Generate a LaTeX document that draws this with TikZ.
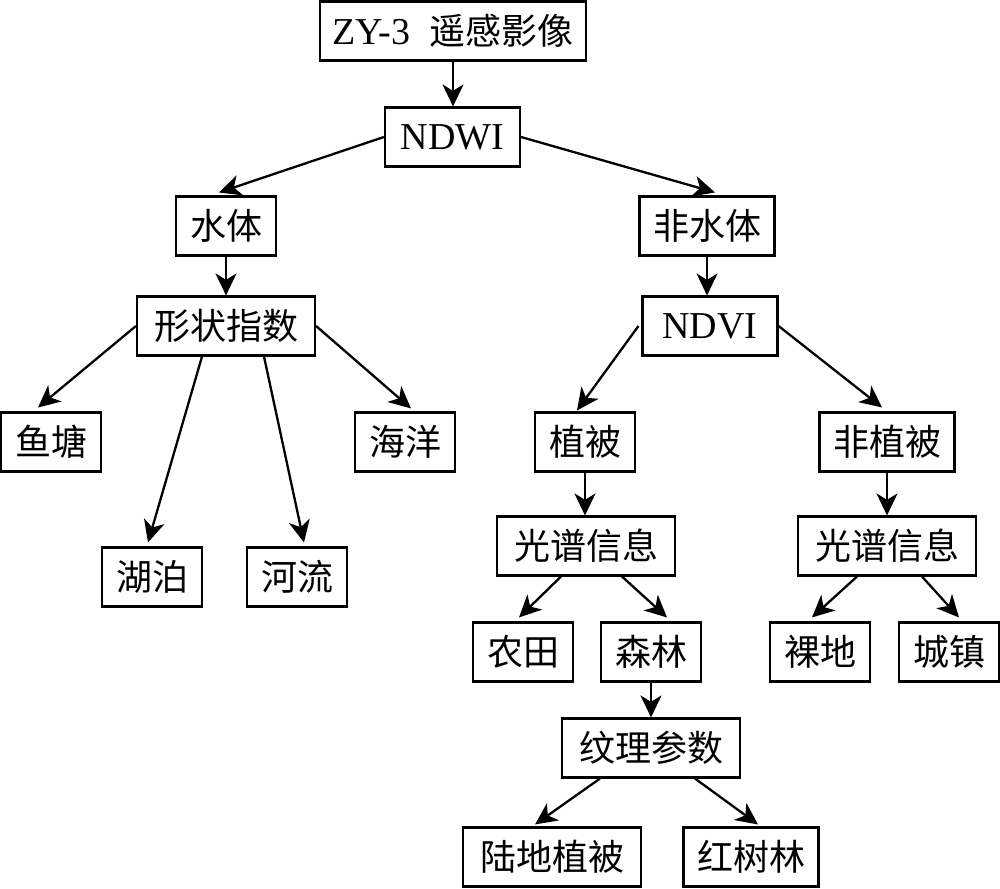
\documentclass[tikz,border=0pt]{standalone}
\usepackage{fontspec}
\setmainfont{Liberation Serif}
\newfontfamily\cjk{Noto Sans CJK SC}
\usepackage{tikz}
\usetikzlibrary{calc}
\usetikzlibrary{arrows.meta, positioning}

\begin{document}
\begin{tikzpicture}[x=0.5pt,y=-0.5pt,
    every node/.style={rectangle,draw,line width=1.05pt,inner sep=0pt,minimum height=29.5pt,font=\fontsize{19}{21}\selectfont},
    zh/.style={font=\cjk\fontsize{18}{20}\selectfont},
    w2/.style={minimum width=50pt},
    w3/.style={minimum width=67.5pt},
    w4/.style={minimum width=89pt},
    arr/.style={line width=1.15pt,-{Stealth[length=11pt,width=10.5pt,inset=3.2pt]}}]
    \useasboundingbox (0,0) rectangle (1000,888);
    % 上面三层
    \node[minimum width=133pt] (zy) at (453,31) {ZY-3\enspace{\cjk\fontsize{18}{20}\selectfont 遥感影像}};
    \node[w3] (ndwi) at (452.5,137) {NDWI};
    \node[w2,zh] (st) at (226,226) {水体};
    \node[w3,zh] (fst) at (707,226) {非水体};
    \node[w4,zh] (xz) at (226,326) {形状指数};
    \node[w3] (ndvi) at (710,326) {NDVI};
    % 水体分类
    \node[w2,zh] (yt) at (51,442) {鱼塘};
    \node[w2,zh] (hy) at (405,442) {海洋};
    \node[w2,zh] (hp) at (152,577) {湖泊};
    \node[w2,zh] (hl) at (297,577) {河流};
    % 非水体分类
    \node[w2,zh] (zb) at (585,442) {植被};
    \node[w3,zh] (fzb) at (887,442) {非植被};
    \node[w4,zh] (gp1) at (586,546) {光谱信息};
    \node[w4,zh] (gp2) at (887,546) {光谱信息};
    \node[w2,zh] (nt) at (523,652) {农田};
    \node[w2,zh] (sl) at (651,652) {森林};
    \node[w2,zh] (ld) at (820,652) {裸地};
    \node[w2,zh] (cz) at (949,652) {城镇};
    \node[w4,zh] (wl) at (651,748) {纹理参数};
    \node[w4,zh] (ldzb) at (552,857) {陆地植被};
    \node[w3,zh] (hsl) at (751,857) {红树林};
    % 竖直箭头
    \foreach \a/\b in {zy/ndwi,st/xz,zb/gp1,fzb/gp2,sl/wl} {
        \draw[arr] (\a.south) -- (\a.south |- \b.north);
    }
    \draw[arr] (fst.south) -- (fst.south |- ndvi.north);
    % 斜箭头
    \draw[arr] (ndwi.west) -- ($(st.north)+(-7,-3)$);
    \draw[arr] (ndwi.east) -- ($(fst.north)+(8,-3)$);
    \draw[arr] (xz.west) -- ($(yt.north)+(-13,-4)$);
    \draw[arr] ($(xz.south)+(-24,0)$) -- ($(hp.north)+(-4,-4)$);
    \draw[arr] ($(xz.south)+(38,0)$) -- ($(hl.north)+(7,-4)$);
    \draw[arr] (xz.east) -- ($(hy.north)+(6,-3)$);
    \draw[arr] ($(ndvi.west)+(-3,0)$) -- ($(zb.north)+(-8,-1)$);
    \draw[arr] (ndvi.east) -- ($(fzb.north)+(-5,-4)$);
    \draw[arr] ($(gp1.south)+(-25,0)$) -- ($(nt.north)+(-4,-4)$);
    \draw[arr] ($(gp1.south)+(36,0)$) -- ($(sl.north)+(16,-4)$);
    \draw[arr] ($(gp2.south)+(-30,0)$) -- ($(ld.north)+(-8,-4)$);
    \draw[arr] ($(gp2.south)+(35,0)$) -- ($(cz.north)+(10,-4)$);
    \draw[arr] ($(wl.south)+(-51,0)$) -- ($(ldzb.north)+(-17,-2)$);
    \draw[arr] ($(wl.south)+(44,0)$) -- ($(hsl.north)+(7,-2)$);
\end{tikzpicture}
\end{document}
